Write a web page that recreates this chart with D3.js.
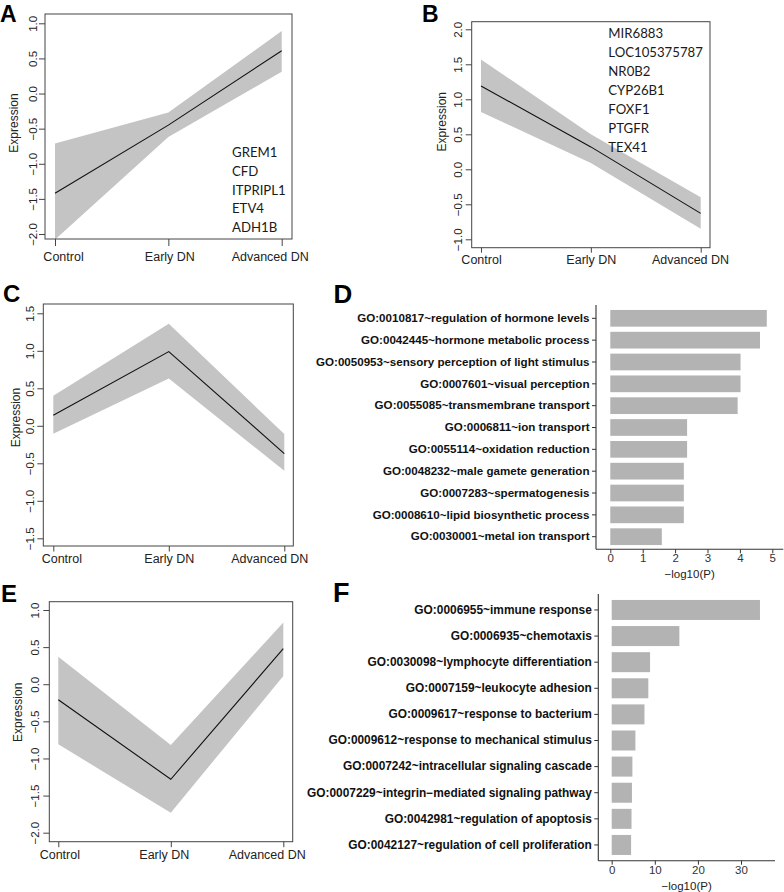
<!DOCTYPE html>
<html>
<head>
<meta charset="utf-8">
<script src="https://cdn.jsdelivr.net/npm/d3@7"></script>
<style>
  html, body { margin: 0; padding: 0; background: #fff; }
  svg { display: block; }
</style>
</head>
<body>
<svg id="chart" width="784" height="892"></svg>
<script>
// ---------------- DATA ----------------
const categories = ["Control", "Early DN", "Advanced DN"];

const aMean  = [-1.42, -0.45, 0.61];
const aUpper = [-0.71, -0.27, 0.89];
const aLower = [-2.08, -0.62, 0.31];
const aGenes = ["GREM1", "CFD", "ITPRIPL1", "ETV4", "ADH1B"];
const aTicks = [-2.0, -1.5, -1.0, -0.5, 0.0, 0.5, 1.0];

const bMean  = [1.19, 0.32, -0.63];
const bUpper = [1.57, 0.50, -0.40];
const bLower = [0.82, 0.09, -0.85];
const bGenes = ["MIR6883", "LOC105375787", "NR0B2", "CYP26B1", "FOXF1", "PTGFR", "TEX41"];
const bTicks = [-1.0, -0.5, 0.0, 0.5, 1.0, 1.5, 2.0];

const cMean  = [0.14, 0.99, -0.37];
const cUpper = [0.40, 1.36, -0.11];
const cLower = [-0.105, 0.63, -0.60];
const cTicks = [-1.5, -1.0, -0.5, 0.0, 0.5, 1.0, 1.5];

const eMean  = [-0.21, -1.28, 0.48];
const eUpper = [0.37, -0.82, 0.83];
const eLower = [-0.81, -1.73, 0.11];
const eTicks = [-2.0, -1.5, -1.0, -0.5, 0.0, 0.5, 1.0];

const dTerms = [
  "GO:0010817~regulation of hormone levels",
  "GO:0042445~hormone metabolic process",
  "GO:0050953~sensory perception of light stimulus",
  "GO:0007601~visual perception",
  "GO:0055085~transmembrane transport",
  "GO:0006811~ion transport",
  "GO:0055114~oxidation reduction",
  "GO:0048232~male gamete generation",
  "GO:0007283~spermatogenesis",
  "GO:0008610~lipid biosynthetic process",
  "GO:0030001~metal ion transport"
];
const dValues = [4.83, 4.62, 4.02, 4.02, 3.93, 2.37, 2.37, 2.27, 2.27, 2.27, 1.59];
const dTicks = [0, 1, 2, 3, 4, 5];

const fTerms = [
  "GO:0006955~immune response",
  "GO:0006935~chemotaxis",
  "GO:0030098~lymphocyte differentiation",
  "GO:0007159~leukocyte adhesion",
  "GO:0009617~response to bacterium",
  "GO:0009612~response to mechanical stimulus",
  "GO:0007242~intracellular signaling cascade",
  "GO:0007229~integrin\u2212mediated signaling pathway",
  "GO:0042981~regulation of apoptosis",
  "GO:0042127~regulation of cell proliferation"
];
const fValues = [34.4, 15.7, 8.9, 8.5, 7.6, 5.5, 4.8, 4.7, 4.6, 4.5];
const fTicks = [0, 10, 20, 30];

const panelLetters = ["A", "B", "C", "D", "E", "F"];
const yTitle = "Expression";
const xTitle = "\u2212log10(P)";

// ---------------- DRAWING ----------------
const svg = d3.select("#chart");
const SANS = "'Liberation Sans', Arial, Helvetica, sans-serif";
const GENE_FONT = "Lato, 'Open Sans', sans-serif";
const bandColor = "#c4c4c4";
const barColor = "#b3b3b3";
const fmt = d => d3.format(".1f")(d).replace("-", "\u2212");

function drawLinePanel(cfg) {
  const g = svg.append("g");
  const x = d3.scalePoint().domain(categories).range([cfg.xl, cfg.xr]);
  const y = d3.scaleLinear().domain([cfg.ticks[0], cfg.ticks[cfg.ticks.length - 1]]).range([cfg.yb, cfg.yt]);
  const box = cfg.box; // [left, top, right, bottom]
  const clipId = "clip" + cfg.id;
  svg.append("clipPath").attr("id", clipId).append("rect")
    .attr("x", box[0]).attr("y", box[1]).attr("width", box[2] - box[0]).attr("height", box[3] - box[1]);

  const rows = categories.map((c, i) => ({c, m: cfg.mean[i], u: cfg.upper[i], l: cfg.lower[i]}));
  const inner = g.append("g").attr("clip-path", `url(#${clipId})`);
  inner.append("path").datum(rows)
    .attr("d", d3.area().x(d => x(d.c)).y0(d => y(d.l)).y1(d => y(d.u)))
    .attr("fill", bandColor);
  inner.append("path").datum(rows)
    .attr("d", d3.line().x(d => x(d.c)).y(d => y(d.m)))
    .attr("fill", "none").attr("stroke", "#111").attr("stroke-width", 1.1);

  g.append("rect").attr("x", box[0]).attr("y", box[1])
    .attr("width", box[2] - box[0]).attr("height", box[3] - box[1])
    .attr("fill", "none").attr("stroke", "#444").attr("stroke-width", 1);

  // y axis
  const ya = g.append("g").attr("transform", `translate(${box[0]},0)`)
    .call(d3.axisLeft(y).tickValues(cfg.ticks).tickSize(6).tickFormat(fmt));
  ya.select(".domain").remove();
  ya.selectAll("line").attr("stroke", "#444");
  ya.selectAll("text")
    .attr("x", null).attr("dy", null).attr("y", 0)
    .attr("transform", `translate(${-cfg.yLabOff},0) rotate(-90)`)
    .attr("text-anchor", "middle").attr("dominant-baseline", "central")
    .attr("font-family", SANS).attr("font-size", 11.5).attr("fill", "#222");

  // x axis
  const xa = g.append("g").attr("transform", `translate(0,${box[3]})`)
    .call(d3.axisBottom(x).tickSize(cfg.xTick));
  xa.select(".domain").remove();
  xa.selectAll("line").attr("stroke", "#444");
  xa.selectAll("text")
    .attr("y", cfg.xLabOff).attr("dy", null).attr("dominant-baseline", "central")
    .attr("x", (d, i) => cfg.labDx[i])
    .attr("font-family", SANS).attr("font-size", 12.5).attr("fill", "#222");

  // y title
  g.append("text").attr("transform", `translate(${cfg.titleX},${cfg.titleY}) rotate(-90)`)
    .attr("text-anchor", "middle").attr("dominant-baseline", "central")
    .attr("font-family", SANS).attr("font-size", 12).attr("fill", "#222").text(yTitle);

  // gene list
  if (cfg.genes) {
    g.append("g").selectAll("text").data(cfg.genes).join("text")
      .attr("x", cfg.geneX).attr("y", (d, i) => cfg.geneY0 + i * cfg.geneStep)
      .attr("dominant-baseline", "central")
      .attr("font-family", GENE_FONT).attr("font-size", 13.2).attr("fill", "#1a1a1a")
      .text(d => d);
  }
}

function drawBarPanel(cfg) {
  const g = svg.append("g");
  const y = d3.scaleBand().domain(cfg.terms).range([cfg.bandTop, cfg.bandBottom])
    .paddingInner(cfg.pad).paddingOuter(cfg.pad / 2);
  const x = d3.scaleLinear().domain([0, cfg.ticks[cfg.ticks.length - 1]]).range([cfg.x0, cfg.xMax]);
  const rows = cfg.terms.map((t, i) => ({t, v: cfg.values[i]}));

  g.append("g").selectAll("rect").data(rows).join("rect")
    .attr("x", x(0)).attr("y", d => y(d.t))
    .attr("width", d => x(d.v) - x(0)).attr("height", y.bandwidth())
    .attr("fill", barColor);

  // axis lines
  g.append("line").attr("x1", cfg.axisX).attr("x2", cfg.axisX)
    .attr("y1", cfg.axisTop).attr("y2", cfg.axisY).attr("stroke", "#333").attr("stroke-width", 1.1);
  g.append("line").attr("x1", cfg.axisX).attr("x2", cfg.axisRight)
    .attr("y1", cfg.axisY).attr("y2", cfg.axisY).attr("stroke", "#333").attr("stroke-width", 1.1);

  const ya = g.append("g").attr("transform", `translate(${cfg.axisX},0)`)
    .call(d3.axisLeft(y).tickSize(4).tickPadding(2.5));
  ya.select(".domain").remove();
  ya.selectAll("line").attr("stroke", "#333");
  ya.selectAll("text").attr("font-family", SANS).attr("font-weight", "bold")
    .attr("font-size", cfg.labSize).attr("fill", "#111");

  const xa = g.append("g").attr("transform", `translate(0,${cfg.axisY})`)
    .call(d3.axisBottom(x).tickValues(cfg.ticks).tickSize(4).tickPadding(1).tickFormat(d3.format("d")));
  xa.select(".domain").remove();
  xa.selectAll("line").attr("stroke", "#333");
  xa.selectAll("text").attr("font-family", SANS).attr("font-size", 11.5).attr("fill", "#333");

  g.append("text").attr("x", (cfg.axisX + cfg.axisRight) / 2).attr("y", cfg.titleY)
    .attr("text-anchor", "middle").attr("dominant-baseline", "central")
    .attr("font-family", SANS).attr("font-size", 11.5).attr("fill", "#222").text(xTitle);
}

drawLinePanel({id: "A", mean: aMean, upper: aUpper, lower: aLower, ticks: aTicks, genes: aGenes,
  xl: 55, xr: 281.7, yb: 234, yt: 23.3, box: [45, 14, 292, 239],
  yLabOff: 12, xTick: 7, xLabOff: 17.5, labDx: [8, 1, -12], titleX: 14, titleY: 123,
  geneX: 232, geneY0: 152, geneStep: 18.8});
drawLinePanel({id: "B", mean: bMean, upper: bUpper, lower: bLower, ticks: bTicks, genes: bGenes,
  xl: 481, xr: 700.7, yb: 239.3, yt: 29.3, box: [471.7, 21.7, 710, 247.7],
  yLabOff: 13.4, xTick: 5, xLabOff: 12.3, labDx: [0, 0, -10.7], titleX: 441.7, titleY: 121.7,
  geneX: 608.3, geneY0: 33.3, geneStep: 18.9});
drawLinePanel({id: "C", mean: cMean, upper: cUpper, lower: cLower, ticks: cTicks,
  xl: 53.3, xr: 284.3, yb: 538.3, yt: 313.3, box: [43.3, 304, 293.3, 546],
  yLabOff: 13.3, xTick: 5.5, xLabOff: 13, labDx: [8, 0, -15], titleX: 16, titleY: 417.5});
drawLinePanel({id: "E", mean: eMean, upper: eUpper, lower: eLower, ticks: eTicks,
  xl: 58.3, xr: 283.3, yb: 832.7, yt: 610, box: [49.3, 601.7, 292.7, 841.7],
  yLabOff: 14.3, xTick: 5.5, xLabOff: 13.3, labDx: [1, -7, -16.6], titleX: 18.3, titleY: 712.3});

drawBarPanel({terms: dTerms, values: dValues, ticks: dTicks,
  bandTop: 307.4, bandBottom: 547.6, pad: 0.235, x0: 610.3, xMax: 772.3,
  axisX: 596, axisTop: 305, axisY: 549.3, axisRight: 783.3, titleY: 574, labSize: 11.6});
drawBarPanel({terms: fTerms, values: fValues, ticks: fTicks,
  bandTop: 596.9, bandBottom: 858, pad: 0.234, x0: 611.7, xMax: 741,
  axisX: 598.3, axisTop: 594, axisY: 860.7, axisRight: 775, titleY: 885.5, labSize: 11.9});

// panel letters
const letterPos = [[0, 21.7, 23], [422, 21.7, 23], [3, 301.7, 24], [333.5, 303.3, 26], [1, 602, 24], [333, 602.3, 27]];
svg.append("g").selectAll("text").data(panelLetters).join("text")
  .attr("x", (d, i) => letterPos[i][0]).attr("y", (d, i) => letterPos[i][1])
  .attr("font-size", (d, i) => letterPos[i][2])
  .attr("font-family", SANS).attr("font-weight", "bold").attr("fill", "#000")
  .text(d => d);
</script>
</body>
</html>
